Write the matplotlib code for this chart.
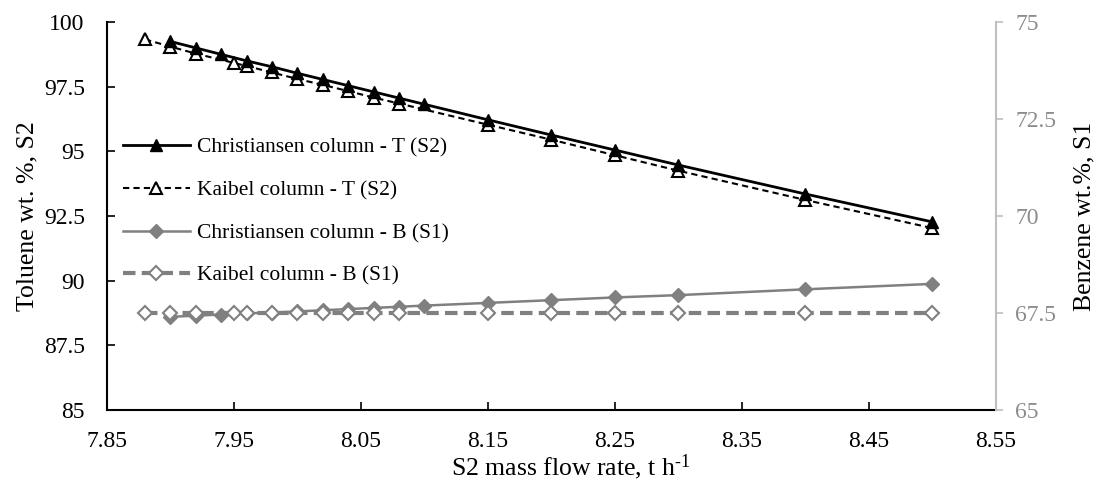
import matplotlib.pyplot as plt
from matplotlib.ticker import FuncFormatter, MultipleLocator, FixedLocator

plt.rcParams['font.family'] = ['Liberation Serif', 'DejaVu Serif']
plt.rcParams['mathtext.fontset'] = 'custom'
plt.rcParams['mathtext.rm'] = 'Liberation Serif'
plt.rcParams['mathtext.it'] = 'Liberation Serif:italic'

# S2 mass flow rate, t/h
x_chr = [7.90, 7.92, 7.94, 7.96, 7.98, 8.00, 8.02, 8.04, 8.06, 8.08, 8.10,
         8.15, 8.20, 8.25, 8.30, 8.40, 8.50]
x_kai = [7.88, 7.90, 7.92, 7.95, 7.96, 7.98, 8.00, 8.02, 8.04, 8.06, 8.08,
         8.15, 8.20, 8.25, 8.30, 8.40, 8.50]
x_ticks = [7.85, 7.95, 8.05, 8.15, 8.25, 8.35, 8.45, 8.55]

# toluene wt.% in S2 (left axis)
tol_chr = [99.25, 99.00, 98.75, 98.50, 98.27, 98.02, 97.78, 97.54, 97.30, 97.06,
           96.82, 96.22, 95.63, 95.05, 94.47, 93.35, 92.27]
tol_kai = [99.33, 99.05, 98.78, 98.42, 98.30, 98.05, 97.80, 97.57, 97.33, 97.08,
           96.85, 96.03, 95.45, 94.85, 94.25, 93.12, 92.03]

# benzene wt.% in S1 (right axis)
ben_chr = [67.40, 67.43, 67.46, 67.49, 67.51, 67.54, 67.57, 67.60, 67.63, 67.66,
           67.69, 67.76, 67.83, 67.90, 67.96, 68.11, 68.25]
ben_kai = [67.50] * len(x_kai)

black = '#000000'
grey = '#808080'

fig = plt.figure(figsize=(10.94, 4.80), dpi=100)
ax = fig.add_axes([0.0978, 0.146, 0.8126, 0.808])
ax2 = ax.twinx()

l2, = ax.plot(x_kai, tol_kai, color=black, lw=1.5, ls=(0, (3, 2)), marker='^',
              ms=9, mfc='white', mec=black, mew=1.5, label='Kaibel column - T (S2)')
l1, = ax.plot(x_chr, tol_chr, color=black, lw=2, marker='^', ms=9,
              mfc=black, mec=black, label='Christiansen column - T (S2)')
l3, = ax2.plot(x_chr, ben_chr, color=grey, lw=1.8, marker='D', ms=7.5,
               mfc=grey, mec=grey, label='Christiansen column - B (S1)')
l4, = ax2.plot(x_kai, ben_kai, color=grey, lw=3, ls=(0, (3, 1.5)), marker='D',
               ms=7, mfc='white', mec=grey, mew=1.5, label='Kaibel column - B (S1)')

ax.set_xlim(7.85, 8.55)
ax.set_ylim(85, 100)
ax2.set_ylim(65, 75)
ax.xaxis.set_major_locator(FixedLocator(x_ticks))
ax.yaxis.set_major_locator(MultipleLocator(2.5))
ax2.yaxis.set_major_locator(MultipleLocator(2.5))
ax.xaxis.set_major_formatter(FuncFormatter(lambda v, p: f'{v:.2f}'))
ax.yaxis.set_major_formatter(FuncFormatter(lambda v, p: f'{v:g}'))
ax2.yaxis.set_major_formatter(FuncFormatter(lambda v, p: f'{v:g}'))

tfs = 17
lfs = 18.5
ax.tick_params(axis='both', direction='in', length=6, width=1.2, labelsize=tfs,
               colors=black)
ax.tick_params(axis='x', pad=15)
ax.tick_params(axis='y', pad=16)
ax2.tick_params(axis='y', direction='out', length=5, width=1.2, labelsize=tfs,
                colors='#BFBFBF', labelcolor='#8C8C8C', pad=9)

ax.spines['top'].set_visible(False)
ax2.spines['top'].set_visible(False)
ax.spines['right'].set_visible(False)
ax2.spines['left'].set_visible(False)
ax2.spines['bottom'].set_visible(False)
ax.spines['left'].set_linewidth(1.5)
ax.spines['bottom'].set_linewidth(1.5)
ax2.spines['right'].set_color('#BFBFBF')
ax2.spines['right'].set_linewidth(1.5)

ax.set_xlabel('S2 mass flow rate, t h$^{\u20101}$', fontsize=lfs)
ax.set_ylabel('Toluene wt. %, S2', fontsize=lfs)
ax2.set_ylabel('Benzene wt.%, S1', fontsize=lfs)
ax.xaxis.set_label_coords(0.522, -0.168)
ax.xaxis.label.set_verticalalignment('baseline')
ax.yaxis.set_label_coords(-0.090, 0.5)
ax.yaxis.label.set_verticalalignment('center')
ax2.yaxis.set_label_coords(1.100, 0.5)
ax2.yaxis.label.set_verticalalignment('center')

leg = ax.legend(handles=[l1, l2, l3, l4], loc='upper left',
                bbox_to_anchor=(0.1045, 0.731), bbox_transform=fig.transFigure,
                frameon=False, fontsize=15.5, handlelength=3.1, labelspacing=1.05,
                handletextpad=0.35, borderaxespad=0)

fig.savefig('out.png', dpi=100)
